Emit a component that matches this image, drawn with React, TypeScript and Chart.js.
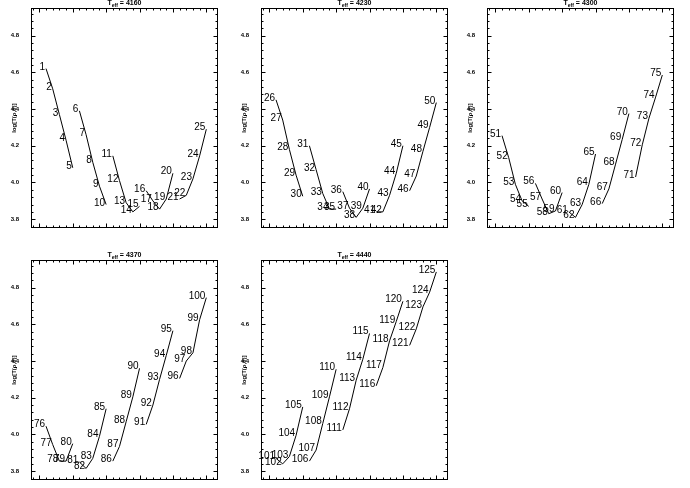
import React, { useEffect, useRef } from 'react';
import { Chart, registerables } from 'chart.js';

Chart.register(...registerables);

// x position of each point inside a panel (five segments of five points)
const xPositions = [
  0.2, 0.4, 0.6, 0.8, 1.0,
  1.2, 1.4, 1.6, 1.8, 2.0,
  2.2, 2.4, 2.6, 2.8, 3.0,
  3.2, 3.4, 3.6, 3.8, 4.0,
  4.2, 4.4, 4.6, 4.8, 5.0,
];

const yTickValues = [3.8, 4.0, 4.2, 4.4, 4.6, 4.8];

const panelTeff = ['4160', '4230', '4300', '4370', '4440'];

const labels4160 = [1, 2, 3, 4, 5, 6, 7, 8, 9, 10, 11, 12, 13, 14, 15, 16, 17, 18, 19, 20, 21, 22, 23, 24, 25];
const values4160 = [
  4.62, 4.51, 4.37, 4.23, 4.08,
  4.39, 4.26, 4.11, 3.98, 3.88,
  4.145, 4.01, 3.89, 3.84, 3.87,
  3.955, 3.90, 3.855, 3.91, 4.05,
  3.91, 3.93, 4.02, 4.145, 4.29,
];

const labels4230 = [26, 27, 28, 29, 30, 31, 32, 33, 34, 35, 36, 37, 38, 39, 40, 41, 42, 43, 44, 45, 46, 47, 48, 49, 50];
const values4230 = [
  4.45, 4.34, 4.18, 4.04, 3.925,
  4.20, 4.07, 3.94, 3.855, 3.855,
  3.95, 3.86, 3.81, 3.86, 3.965,
  3.84, 3.84, 3.93, 4.05, 4.20,
  3.955, 4.035, 4.17, 4.30, 4.435,
];

const labels4300 = [51, 52, 53, 54, 55, 56, 57, 58, 59, 60, 61, 62, 63, 64, 65, 66, 67, 68, 69, 70, 71, 72, 73, 74, 75];
const values4300 = [
  4.255, 4.135, 3.99, 3.90, 3.87,
  3.995, 3.91, 3.83, 3.845, 3.945,
  3.84, 3.81, 3.88, 3.99, 4.155,
  3.885, 3.965, 4.10, 4.235, 4.375,
  4.03, 4.205, 4.35, 4.465, 4.585,
];

const labels4370 = [76, 77, 78, 79, 80, 81, 82, 83, 84, 85, 86, 87, 88, 89, 90, 91, 92, 93, 94, 95, 96, 97, 98, 99, 100];
const values4370 = [
  4.045, 3.945, 3.855, 3.855, 3.95,
  3.85, 3.815, 3.87, 3.99, 4.14,
  3.855, 3.935, 4.07, 4.205, 4.36,
  4.055, 4.16, 4.30, 4.43, 4.565,
  4.305, 4.40, 4.445, 4.625, 4.745,
];

const labels4440 = [101, 102, 103, 104, 105, 106, 107, 108, 109, 110, 111, 112, 113, 114, 115, 116, 117, 118, 119, 120, 121, 122, 123, 124, 125];
const values4440 = [
  3.87, 3.84, 3.88, 3.995, 4.15,
  3.855, 3.915, 4.06, 4.205, 4.355,
  4.025, 4.14, 4.295, 4.41, 4.55,
  4.265, 4.365, 4.51, 4.615, 4.725,
  4.485, 4.575, 4.695, 4.775, 4.885,
];

const FONT = '"Liberation Sans", Arial, Helvetica, sans-serif';

const decorPlugin = {
  id: 'panelDecor',
  afterDatasetsDraw(chart: any) {
    const { ctx } = chart;
    const lbls: number[] = chart.options.plugins.panelDecor.labels;
    ctx.save();
    ctx.fillStyle = '#000';
    ctx.font = `10px ${FONT}`;
    ctx.textAlign = 'right';
    ctx.textBaseline = 'alphabetic';
    chart.data.datasets.forEach((_: any, di: number) => {
      const meta = chart.getDatasetMeta(di);
      meta.data.forEach((pt: any, j: number) => {
        ctx.fillText(String(lbls[di * 5 + j]), pt.x - 1, pt.y + 1);
      });
    });
    ctx.restore();
  },
  afterDraw(chart: any) {
    const { ctx, chartArea: a, scales } = chart;
    const xs = scales.x;
    const ys = scales.y;
    const title: string = chart.options.plugins.panelDecor.teff;
    ctx.save();
    ctx.strokeStyle = '#000';
    ctx.lineWidth = 1;
    const L = Math.round(a.left) + 0.5;
    const R = Math.round(a.right) - 0.5;
    const T = Math.round(a.top) + 0.5;
    const B = Math.round(a.bottom) - 0.5;
    ctx.strokeRect(L, T, R - L, B - T);
    ctx.beginPath();
    // x ticks (inward, top and bottom)
    for (let k = -1; k <= 26; k++) {
      const v = k * 0.2;
      if (v < xs.min || v > xs.max) continue;
      const px = Math.round(xs.getPixelForValue(v)) + 0.5;
      const len = k % 5 === 0 ? 4 : 2;
      ctx.moveTo(px, B);
      ctx.lineTo(px, B - len);
      ctx.moveTo(px, T);
      ctx.lineTo(px, T + len);
    }
    // y ticks (inward, left and right)
    for (let k = 94; k <= 123; k++) {
      const v = k * 0.04;
      if (v < ys.min || v > ys.max) continue;
      const py = Math.round(ys.getPixelForValue(v)) + 0.5;
      const len = k % 5 === 0 ? 4 : 2;
      ctx.moveTo(L, py);
      ctx.lineTo(L + len, py);
      ctx.moveTo(R, py);
      ctx.lineTo(R - len, py);
    }
    ctx.stroke();
    // title T_eff = xxxx
    const big = `bold 7px ${FONT}`;
    const small = `bold 5px ${FONT}`;
    ctx.font = big;
    const wT = ctx.measureText('T').width;
    const wRest = ctx.measureText(' = ' + title).width;
    ctx.font = small;
    const wSub = ctx.measureText('eff').width;
    const total = wT + wSub + wRest;
    let x0 = (a.left + a.right) / 2 - total / 2;
    const base = a.top - 3;
    ctx.fillStyle = '#000';
    ctx.textAlign = 'left';
    ctx.textBaseline = 'alphabetic';
    ctx.font = big;
    ctx.fillText('T', x0, base);
    x0 += wT;
    ctx.font = small;
    ctx.fillText('eff', x0, base + 1.5);
    x0 += wSub;
    ctx.font = big;
    ctx.fillText(' = ' + title, x0, base);
    ctx.restore();
  },
};

type PanelProps = {
  teff: string;
  labels: number[];
  values: number[];
  left: number;
  top: number;
};

function Panel({ teff, labels, values, left, top }: PanelProps) {
  const ref = useRef<HTMLCanvasElement>(null);
  useEffect(() => {
    if (!ref.current) return;
    const datasets = [0, 1, 2, 3, 4].map((s) => ({
      data: xPositions.slice(s * 5, s * 5 + 5).map((x, j) => ({ x, y: values[s * 5 + j] })),
      showLine: true,
      borderColor: '#000',
      borderWidth: 1,
      pointRadius: 0,
      tension: 0,
    }));
    const chart = new Chart(ref.current, {
      type: 'scatter',
      data: { datasets },
      options: {
        animation: false,
        responsive: true,
        maintainAspectRatio: false,
        layout: { padding: { left: 0, right: 12, top: 8, bottom: 6 } },
        plugins: {
          legend: { display: false },
          tooltip: { enabled: false },
          panelDecor: { labels, teff },
        } as any,
        scales: {
          x: {
            type: 'linear',
            min: -0.25,
            max: 5.35,
            display: false,
          },
          y: {
            type: 'linear',
            min: 3.75,
            max: 4.95,
            afterBuildTicks: (s: any) => {
              s.ticks = yTickValues.map((v) => ({ value: v }));
            },
            afterFit: (s: any) => {
              s.width = 31;
            },
            grid: { display: false },
            border: { display: false },
            ticks: {
              padding: 4,
              color: '#000',
              font: { size: 6, weight: 'bold', family: FONT },
              callback: (v: any) => Number(v).toFixed(1),
            },
            title: {
              display: true,
              text: 'log[T(ρ,θ)]',
              color: '#000',
              font: { size: 6, weight: 'bold', family: FONT },
              padding: { top: 11, bottom: 0 },
            },
          },
        },
      },
      plugins: [decorPlugin],
    } as any);
    return () => chart.destroy();
  }, [teff, labels, values]);
  return (
    <div style={{ position: 'absolute', left, top, width: 230, height: 236 }}>
      <canvas ref={ref} />
    </div>
  );
}

export default function App() {
  return (
    <div style={{ position: 'fixed', left: 0, top: 0, width: 690, height: 488, background: '#fff' }}>
      <Panel teff={panelTeff[0]} labels={labels4160} values={values4160} left={0} top={0} />
      <Panel teff={panelTeff[1]} labels={labels4230} values={values4230} left={230} top={0} />
      <Panel teff={panelTeff[2]} labels={labels4300} values={values4300} left={456} top={0} />
      <Panel teff={panelTeff[3]} labels={labels4370} values={values4370} left={0} top={252} />
      <Panel teff={panelTeff[4]} labels={labels4440} values={values4440} left={230} top={252} />
    </div>
  );
}
